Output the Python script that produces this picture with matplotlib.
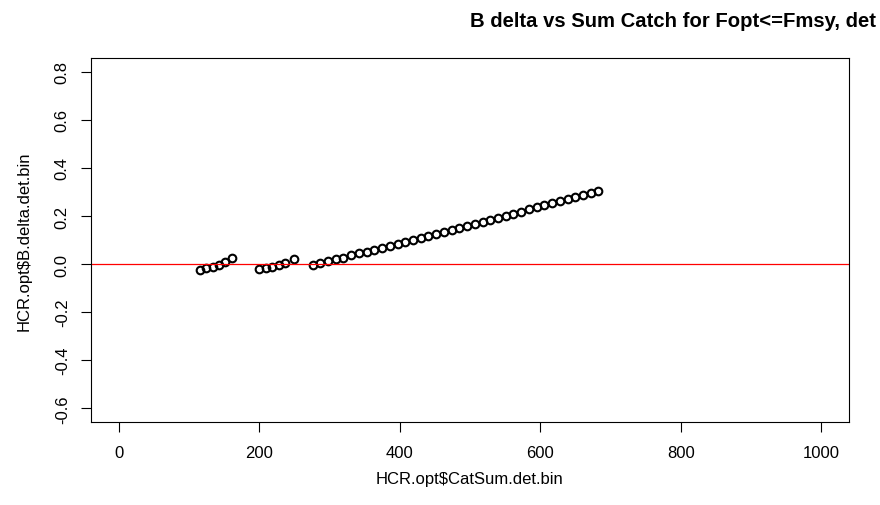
import matplotlib
matplotlib.use("Agg")
import matplotlib.pyplot as plt

plt.rcParams['font.family'] = ['Liberation Sans', 'DejaVu Sans']

# binned catch sums (x) and B delta (y)
catch_bins = [115, 124, 134, 143, 152, 161,
              199, 209, 218, 228, 237, 250,
              276, 287, 298, 309, 320, 331, 342, 353, 364, 375,
              386, 397, 408, 419, 430, 441, 452, 463, 474, 485,
              496, 507, 518, 529, 540, 551, 562, 573, 584, 595,
              606, 617, 628, 639, 650, 661, 672, 683]
b_delta = [-0.024, -0.018, -0.011, -0.003, 0.008, 0.026,
           -0.021, -0.016, -0.011, -0.005, 0.003, 0.020,
           -0.003, 0.003, 0.011, 0.019, 0.027, 0.036, 0.044, 0.052, 0.060, 0.068,
           0.076, 0.084, 0.092, 0.100, 0.108, 0.117, 0.125, 0.134, 0.142, 0.150,
           0.159, 0.167, 0.176, 0.184, 0.193, 0.201, 0.210, 0.218, 0.227, 0.236,
           0.244, 0.253, 0.261, 0.270, 0.278, 0.287, 0.295, 0.305]

x_ticks = [0, 200, 400, 600, 800, 1000]
y_ticks = [-0.6, -0.4, -0.2, 0.0, 0.2, 0.4, 0.6, 0.8]

fig = plt.figure(figsize=(8.8, 5.06), dpi=100)
ax = fig.add_axes([0.103, 0.1646, 0.862, 0.7182])

ax.plot(catch_bins, b_delta, linestyle='none', marker='o', markersize=5.5,
        markerfacecolor='none', markeredgecolor='black', markeredgewidth=1.5)
ax.axhline(0, color='red', linewidth=0.9)

# R-style axis ranges (4% padding)
ax.set_xlim(-40, 1040)
ax.set_ylim(-0.656, 0.856)
ax.set_xticks(x_ticks)
ax.set_xticklabels([str(v) for v in x_ticks])
ax.set_yticks(y_ticks)
ax.set_yticklabels([f'{v:.1f}' for v in y_ticks], rotation=90, va='center')
ax.tick_params(direction='out', length=7, width=0.8, labelsize=12)
ax.tick_params(axis='x', pad=10)
ax.tick_params(axis='y', pad=8)

for s in ax.spines.values():
    s.set_linewidth(0.8)

ax.set_xlabel(r'HCR.opt\$CatSum.det.bin', fontsize=12, labelpad=8)
ax.set_ylabel(r'HCR.opt\$B.delta.det.bin', fontsize=12, labelpad=17)

# title runs off the right edge in the original, only this much is visible
fig.text(0.534, 0.958, 'B delta vs Sum Catch for Fopt<=Fmsy, det',
         fontsize=14.6, fontweight='bold', ha='left', va='center')

fig.savefig('out.png', dpi=100)
